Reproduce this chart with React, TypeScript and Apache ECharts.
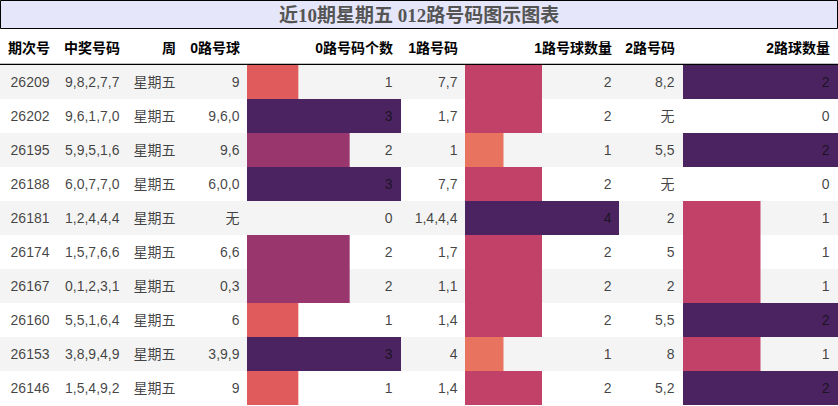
import React, { useEffect, useRef } from 'react'
import * as echarts from 'echarts'

const TITLE = '近10期星期五 012路号码图示图表'
const HEADERS = ['期次号', '中奖号码', '周', '0路号球', '0路号码个数', '1路号码', '1路号球数量', '2路号码', '2路球数量']

const issues = ['26209', '26202', '26195', '26188', '26181', '26174', '26167', '26160', '26153', '26146']
const draws = ['9,8,2,7,7', '9,6,1,7,0', '5,9,5,1,6', '6,0,7,7,0', '1,2,4,4,4', '1,5,7,6,6', '0,1,2,3,1', '5,5,1,6,4', '3,8,9,4,9', '1,5,4,9,2']
const weekdays = ['星期五', '星期五', '星期五', '星期五', '星期五', '星期五', '星期五', '星期五', '星期五', '星期五']
const zeroBalls = ['9', '9,6,0', '9,6', '6,0,0', '无', '6,6', '0,3', '6', '3,9,9', '9']
const zeroCounts = [1, 3, 2, 3, 0, 2, 2, 1, 3, 1]
const oneBalls = ['7,7', '1,7', '1', '7,7', '1,4,4,4', '1,7', '1,1', '1,4', '4', '1,4']
const oneCounts = [2, 2, 1, 2, 4, 2, 2, 2, 1, 2]
const twoBalls = ['8,2', '无', '5,5', '无', '2', '5', '2', '5,5', '8', '5,2']
const twoCounts = [2, 0, 2, 0, 1, 1, 1, 2, 1, 2]

// 各列右边界（文字右对齐）
const COL_RIGHT = [50, 120, 176, 240, 393, 458, 612, 675, 830]
// 条形列的位置
const BAR_COLS = [
  { left: 247, width: 154 },
  { left: 465, width: 154 },
  { left: 683, width: 155 },
]

const W = 838
const H = 406
const TOP = 65
const ROW_H = 34

// flare 色带
const FLARE: [number, string][] = [
  [0, '#edb081'],
  [0.25, '#e8735e'],
  [0.333, '#e05c5c'],
  [0.5, '#c24168'],
  [0.667, '#9a366e'],
  [1, '#4b2360'],
]

const hexToRgb = (h: string) => [1, 3, 5].map((i) => parseInt(h.slice(i, i + 2), 16))

const rampColor = (t: number) => {
  for (let i = 1; i < FLARE.length; i++) {
    const [p1, c1] = FLARE[i]
    const [p0, c0] = FLARE[i - 1]
    if (t <= p1) {
      const k = (t - p0) / (p1 - p0)
      const a = hexToRgb(c0)
      const b = hexToRgb(c1)
      const c = a.map((v, j) => Math.round(v + (b[j] - v) * k))
      return `rgb(${c[0]},${c[1]},${c[2]})`
    }
  }
  return FLARE[FLARE.length - 1][1]
}

const FONT = "'Liberation Sans', 'Noto Sans CJK SC', sans-serif"

const App: React.FC = () => {
  const chartRef = useRef<HTMLDivElement>(null)

  useEffect(() => {
    if (!chartRef.current) return
    const chart = echarts.init(chartRef.current, undefined, { renderer: 'svg' })

    const textCols = [
      issues,
      draws,
      weekdays,
      zeroBalls,
      zeroCounts.map(String),
      oneBalls,
      oneCounts.map(String),
      twoBalls,
      twoCounts.map(String),
    ]
    const counts = [zeroCounts, oneCounts, twoCounts]

    const grids = [
      { left: 0, top: TOP, width: W, height: ROW_H * 10 },
      ...BAR_COLS.map((b) => ({ left: b.left, top: TOP, width: b.width, height: ROW_H * 10 })),
    ]

    const xAxis = [
      { type: 'value', gridIndex: 0, min: 0, max: W, show: false },
      ...counts.map((c, i) => ({
        type: 'value',
        gridIndex: i + 1,
        min: 0,
        max: Math.max(...c),
        show: false,
      })),
    ]
    const yAxis = grids.map((_, i) => ({
      type: 'category',
      gridIndex: i,
      data: issues,
      inverse: true,
      show: false,
    }))

    const stripeSeries = {
      type: 'bar',
      xAxisIndex: 0,
      yAxisIndex: 0,
      barWidth: '100%',
      silent: true,
      data: issues.map((_, i) => ({
        value: W,
        itemStyle: { color: i % 2 === 0 ? '#f4f4f4' : '#ffffff' },
      })),
      z: 1,
    }

    const barSeries = counts.map((c, ci) => {
      const max = Math.max(...c)
      return {
        type: 'bar',
        xAxisIndex: ci + 1,
        yAxisIndex: ci + 1,
        barWidth: '100%',
        silent: true,
        data: c,
        itemStyle: {
          color: (p: any) => rampColor(p.value / max),
        },
        z: 2,
      }
    })

    const textSeries = textCols.map((col, ci) => ({
      type: 'scatter',
      xAxisIndex: 0,
      yAxisIndex: 0,
      symbolSize: 1,
      silent: true,
      itemStyle: { color: 'rgba(0,0,0,0)' },
      data: col.map((t, ri) => ({ value: [COL_RIGHT[ci], ri], name: t })),
      label: {
        show: true,
        position: 'left',
        distance: 0,
        formatter: (p: any) => p.name,
        color: '#111',
        fontSize: 14,
        fontFamily: FONT,
      },
      z: 5,
    }))

    chart.setOption({
      animation: false,
      grid: grids,
      xAxis,
      yAxis,
      series: [stripeSeries, ...barSeries, ...textSeries],
      graphic: [
        {
          type: 'rect',
          shape: { x: 0.5, y: 0.5, width: W - 1, height: 28 },
          style: { fill: '#e6e6fa', stroke: '#000', lineWidth: 1 },
          silent: true,
        },
        {
          type: 'text',
          x: W / 2,
          y: 15,
          style: {
            text: TITLE,
            fill: '#555',
            font: "bold 19px 'Liberation Serif', 'Noto Sans CJK SC', serif",
            align: 'center',
            verticalAlign: 'middle',
          },
          silent: true,
        },
        ...HEADERS.map((h, i) => ({
          type: 'text',
          x: COL_RIGHT[i],
          y: 48,
          style: {
            text: h,
            fill: '#000',
            font: `bold 14px ${FONT}`,
            align: 'right',
            verticalAlign: 'middle',
          },
          silent: true,
        })),
        {
          type: 'line',
          shape: { x1: 0, y1: 64.5, x2: W, y2: 64.5 },
          style: { stroke: '#000', lineWidth: 1.5 },
          silent: true,
        },
      ],
    })

    return () => {
      chart.dispose()
    }
  }, [])

  return (
    <div
      ref={chartRef}
      style={{ position: 'absolute', left: 0, top: 0, width: W, height: H, background: '#fff' }}
    />
  )
}

export default App
